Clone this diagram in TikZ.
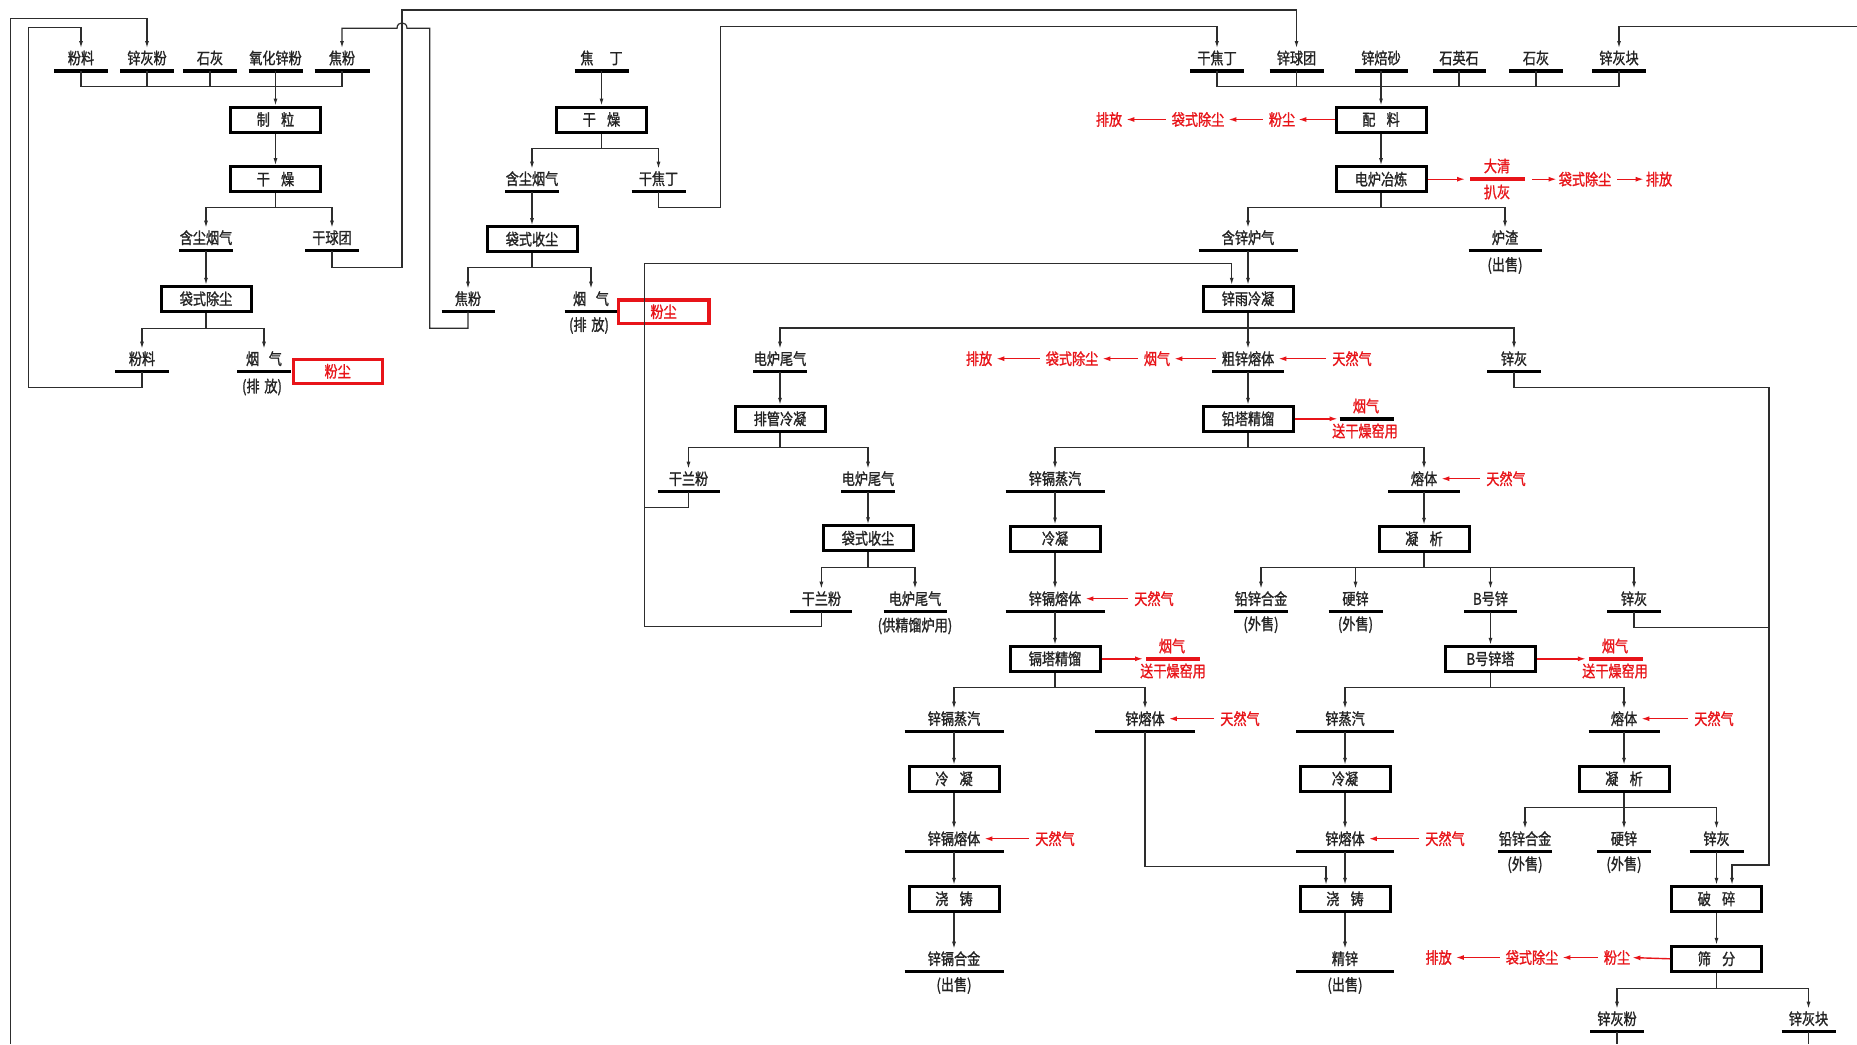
\documentclass[tikz,border=0pt]{standalone}
\usepackage{fontspec}
\setmainfont{Noto Sans CJK SC}[FakeStretch=0.82,FakeBold=1.2]
\usetikzlibrary{arrows.meta}
\definecolor{lc}{RGB}{45,45,45}
\definecolor{tc}{RGB}{35,35,35}
\definecolor{rc}{RGB}{232,20,25}
\newcommand\labfont{\fontsize{16}{18}\selectfont}
% name, x, ybar, half width, text
\newcommand\flowlab[5]{%
  \node[lab] (#1) at (#2,#3-13) {#5};
  \draw[flowbar] (#2-#4,#3) -- (#2+#4,#3);
  \coordinate (#1b) at (#2,#3);
  \coordinate (#1t) at (#2,#3-23);
}
\begin{document}
\begin{tikzpicture}[x=1pt,y=-1pt,
  ln/.style={draw=lc,line width=1.2pt},
  arr/.style={draw=lc,line width=1.2pt,-{Latex[length=7pt,width=4pt]}},
  flowbar/.style={draw=black,line width=3.4pt},
  pbox/.style={draw=black,line width=3pt,minimum width=90pt,minimum height=25pt,inner sep=0pt,font=\labfont,text=tc},
  lab/.style={inner sep=0pt,font=\labfont,text=tc},
  rlab/.style={inner sep=0pt,font=\labfont,text=rc},
  rarr/.style={draw=rc,line width=1.4pt,-{Latex[length=8pt,width=5pt]}},
  rcon/.style={rarr,shorten <=6pt,shorten >=4pt},
  rbar/.style={draw=rc,line width=3.8pt},
  rbox/.style={draw=rc,line width=3.4pt,inner sep=0pt,font=\labfont,text=rc}]
\fill[white] (0,0) rectangle (1857,1044);
\path[use as bounding box] (0,0) rectangle (1857,1044);

% ================= column A =================
\flowlab{afl}{81}{71}{27}{粉料}
\flowlab{azhf}{147}{71}{27}{锌灰粉}
\flowlab{ash}{210}{71}{27}{石灰}
\flowlab{ayh}{275.5}{71}{27}{氧化锌粉}
\flowlab{ajf}{342}{71}{27.5}{焦粉}
\draw[ln] (aflb) |- (ajfb |- 0,86.7) -- (ajfb);
\draw[ln] (azhfb) -- (azhfb |- 0,86.7);
\draw[ln] (ashb) -- (ashb |- 0,86.7);
\node[pbox] (azl) at (275.5,119.5) {制\hspace{0.7em}粒};
\draw[arr] (ayhb) -- (azl.north);
\node[pbox] (agz) at (275.5,179.2) {干\hspace{0.7em}燥};
\draw[arr] (azl) -- (agz);
\flowlab{ahc}{206}{250.7}{27}{含尘烟气}
\flowlab{agq}{332}{250.7}{27}{干球团}
\coordinate (asp1) at (275.5,207.7);
\draw[ln] (agz.south) -- (asp1);
\draw[arr] (asp1) -| (ahct);
\draw[arr] (asp1) -| (agqt);
\node[pbox] (adc) at (206,298.8) {袋式除尘};
\draw[arr] (ahcb) -- (adc.north);
\flowlab{afl2}{142}{371.7}{27}{粉料}
\flowlab{ayq}{264}{371.7}{27}{烟\hspace{0.6em}气}
\node[lab] (ayqs) at (262,387) {(排\hspace{0.3em}放)};
\coordinate (asp2) at (206,328.3);
\draw[ln] (adc.south) -- (asp2);
\draw[arr] (asp2) -| (afl2t);
\draw[arr] (asp2) -| (ayqt);
\node[rbox,minimum width=89pt,minimum height=24pt] (afc) at (337.7,371.3) {粉尘};

% loops of column A
\coordinate (aout) at (10.7,1044);
\draw[arr] (aout) -- (10.7,18.3) -| (azhft);
\draw[arr] (afl2b) -- (142,387.3) -| (28.5,27.7) -| (aflt);

% ================= column B =================
\flowlab{bjd}{601.5}{71}{27}{焦\hspace{1em}丁}
\node[pbox] (bgz) at (601.5,119.5) {干\hspace{0.7em}燥};
\draw[arr] (bjdb) -- (bgz.north);
\coordinate (bsp1) at (601.5,148.3);
\draw[ln] (bgz.south) -- (bsp1);
\flowlab{bhc}{532}{191.7}{27}{含尘烟气}
\flowlab{bgj}{658.5}{191.7}{27}{干焦丁}
\draw[arr] (bsp1) -| (bhct);
\draw[arr] (bsp1) -| (bgjt);
\node[pbox] (bdsc) at (532,239.2) {袋式收尘};
\draw[arr] (bhcb) -- (bdsc.north);
\coordinate (bsp2) at (532,267.7);
\draw[ln] (bdsc.south) -- (bsp2);
\flowlab{bjf}{468}{311.7}{26.5}{焦粉}
\flowlab{byq}{591}{311.7}{26.5}{烟\hspace{0.6em}气}
\node[lab] (byqs) at (589,325.5) {(排\hspace{0.3em}放)};
\draw[arr] (bsp2) -| (bjft);
\draw[arr] (bsp2) -| (byqt);
\node[rbox,minimum width=90.6pt,minimum height=23.3pt] (bfc) at (663.6,311.7) {粉尘};

% ================= column D heads (needed for loops) =================
\flowlab{dgj}{1217}{71}{27}{干焦丁}
\flowlab{dzq}{1296.5}{71}{27}{锌球团}
\flowlab{dzb}{1381}{71}{26.5}{锌焙砂}
\flowlab{dsy}{1459}{71}{26.5}{石英石}
\flowlab{dsh}{1536}{71}{27}{石灰}
\flowlab{dzk}{1619}{71}{27}{锌灰块}
\draw[ln] (dgjb) |- (dzkb |- 0,86.7) -- (dzkb);
\draw[ln] (dzqb) -- (dzqb |- 0,86.7);
\draw[ln] (dsyb) -- (dsyb |- 0,86.7);
\draw[ln] (dshb) -- (dshb |- 0,86.7);

% loops across the top
\draw[arr] (agqb) -- (332,267.7) -| (402,10) -| (dzqt);
\draw[arr] (bjfb) -- (468,328.3) -| (429.8,28.3) -- (407,28.3)
   .. controls (407,21) and (397,21) .. (397,28.3) -| (ajft);
\draw[arr] (bgjb) -- (658.5,207.3) -| (720.6,26.7) -| (dgjt);
\coordinate (rin) at (1857,26.7);
\draw[arr] (rin) -| (dzkt);

% ================= column C =================
\flowlab{cdw1}{780}{371.7}{27}{电炉尾气}
\node[pbox] (cpg) at (780,418.8) {排管冷凝};
\draw[arr] (cdw1b) -- (cpg.north);
\coordinate (csp1) at (780,447.3);
\draw[ln] (cpg.south) -- (csp1);
\flowlab{cgl1}{688.5}{491.7}{31}{干兰粉}
\flowlab{cdw2}{868}{491.7}{27}{电炉尾气}
\draw[arr] (csp1) -| (cgl1t);
\draw[arr] (csp1) -| (cdw2t);
\node[pbox] (cdsc) at (868,538.3) {袋式收尘};
\draw[arr] (cdw2b) -- (cdsc.north);
\coordinate (csp2) at (868,567.7);
\draw[ln] (cdsc.south) -- (csp2);
\flowlab{cgl2}{821.4}{611.7}{31}{干兰粉}
\flowlab{cdw3}{915}{611.7}{31.5}{电炉尾气}
\node[lab] (cdw3s) at (915,626) {(供精馏炉用)};
\draw[arr] (csp2) -| (cgl2t);
\draw[arr] (csp2) -| (cdw3t);

% ================= column D =================
\node[pbox] (dpl) at (1381,119.5) {配\hspace{0.7em}料};
\draw[arr] (dzbb) -- (dpl.north);
\node[pbox] (ddl) at (1381,179.2) {电炉冶炼};
\draw[arr] (dpl) -- (ddl);
\coordinate (dsp1) at (1381,207.7);
\draw[ln] (ddl.south) -- (dsp1);
\flowlab{dhx}{1248}{250.7}{49.5}{含锌炉气}
\flowlab{dlz}{1505}{250.7}{36.5}{炉渣}
\node[lab] (dlzs) at (1505,265.5) {(出售)};
\draw[arr] (dsp1) -| (dhxt);
\draw[arr] (dsp1) -| (dlzt);
\node[pbox] (dyl) at (1248,298.8) {锌雨冷凝};
\draw[arr] (dhxb) -- (dyl.north);
\coordinate (dylin) at (1231.7,284.8);
\draw[arr] (cgl2b) -- (821.4,626.7) -| (644.7,263.3) -| (dylin);
\draw[ln] (cgl1b) -- (688.5,507.7) -- (644.7,507.7);
\coordinate (dsp2) at (1248,328);
\draw[ln] (dyl.south) -- (dsp2);
\flowlab{dcz}{1248}{371.7}{36}{粗锌熔体}
\flowlab{dzh1}{1514}{371.7}{27}{锌灰}
\draw[arr] (dsp2) -- (dczt);
\draw[arr] (dsp2) -| (cdw1t);
\draw[arr] (dsp2) -| (dzh1t);
\node[pbox] (dqt) at (1248,418.8) {铅塔精馏};
\draw[arr] (dczb) -- (dqt.north);
\coordinate (dsp3) at (1248,447.3);
\draw[ln] (dqt.south) -- (dsp3);
\flowlab{dgz1}{1055}{491.7}{49.5}{锌镉蒸汽}
\flowlab{drt1}{1424}{491.7}{36}{熔体}
\draw[arr] (dsp3) -| (dgz1t);
\draw[arr] (dsp3) -| (drt1t);
\node[pbox] (dln1) at (1055,538.5) {冷凝};
\node[pbox] (dnx1) at (1424,538.8) {凝\hspace{0.7em}析};
\draw[arr] (dgz1b) -- (dln1.north);
\draw[arr] (drt1b) -- (dnx1.north);
\flowlab{dgr1}{1055}{611.7}{49.5}{锌镉熔体}
\draw[arr] (dln1.south) -- (dgr1t);
\coordinate (dsp4) at (1424,567.7);
\draw[ln] (dnx1.south) -- (dsp4);
\flowlab{dqx1}{1261}{611.7}{27}{铅锌合金}
\node[lab] (dqx1s) at (1261,624.7) {(外售)};
\flowlab{dyx1}{1355.5}{611.7}{27}{硬锌}
\node[lab] (dyx1s) at (1355.5,624.7) {(外售)};
\flowlab{dbx}{1490.5}{611.7}{26.5}{B号锌}
\flowlab{dzh2}{1634}{611.7}{27}{锌灰}
\draw[arr] (dsp4) -| (dqx1t);
\draw[arr] (dsp4) -| (dyx1t);
\draw[arr] (dsp4) -| (dbxt);
\draw[arr] (dsp4) -| (dzh2t);
\node[pbox] (dgt) at (1055,658.8) {镉塔精馏};
\draw[arr] (dgr1b) -- (dgt.north);
\node[pbox] (dbt) at (1490.5,658.8) {B号锌塔};
\draw[arr] (dbxb) -- (dbt.north);
\coordinate (dsp5) at (1055,687.8);
\draw[ln] (dgt.south) -- (dsp5);
\coordinate (dsp6) at (1490.5,687.8);
\draw[ln] (dbt.south) -- (dsp6);
\flowlab{dgz2}{954}{731.7}{49.5}{锌镉蒸汽}
\flowlab{dzr2}{1145}{731.7}{50}{锌熔体}
\flowlab{dzz}{1345}{731.7}{49}{锌蒸汽}
\flowlab{drt2}{1624}{731.7}{35.5}{熔体}
\draw[arr] (dsp5) -| (dgz2t);
\draw[arr] (dsp5) -| (dzr2t);
\draw[arr] (dsp6) -| (dzzt);
\draw[arr] (dsp6) -| (drt2t);
\node[pbox] (dln2) at (954,778.8) {冷\hspace{0.7em}凝};
\node[pbox] (dln3) at (1345,778.8) {冷凝};
\node[pbox] (dnx2) at (1624,778.8) {凝\hspace{0.7em}析};
\draw[arr] (dgz2b) -- (dln2.north);
\draw[arr] (dzzb) -- (dln3.north);
\draw[arr] (drt2b) -- (dnx2.north);
\flowlab{dgr2}{954}{851.7}{49.5}{锌镉熔体}
\flowlab{dzr3}{1345}{851.7}{49}{锌熔体}
\draw[arr] (dln2.south) -- (dgr2t);
\draw[arr] (dln3.south) -- (dzr3t);
\coordinate (dsp7) at (1624,807.7);
\draw[ln] (dnx2.south) -- (dsp7);
\flowlab{dqx2}{1525}{851.7}{27}{铅锌合金}
\node[lab] (dqx2s) at (1525,864.7) {(外售)};
\flowlab{dyx2}{1624}{851.7}{27}{硬锌}
\node[lab] (dyx2s) at (1624,864.7) {(外售)};
\flowlab{dzh3}{1716.5}{851.7}{27}{锌灰}
\draw[arr] (dsp7) -| (dqx2t);
\draw[arr] (dsp7) -- (dyx2t);
\draw[arr] (dsp7) -| (dzh3t);
\node[pbox] (djz1) at (954,898.8) {浇\hspace{0.7em}铸};
\node[pbox] (djz2) at (1345,898.8) {浇\hspace{0.7em}铸};
\node[pbox] (dps) at (1716.5,898.8) {破\hspace{0.7em}碎};
\node[pbox] (dsf) at (1716.5,958.8) {筛\hspace{0.7em}分};
\draw[arr] (dgr2b) -- (djz1.north);
\draw[arr] (dzr3b) -- (djz2.north);
\draw[arr] (dzh3b) -- (dps.north);
\draw[arr] (dps) -- (dsf);
\coordinate (djz2in) at (1326,884.8);
\draw[arr] (dzr2b) -- (1145,866.7) -| (djz2in);
\coordinate (dpsin) at (1732,884.8);
\draw[arr] (dzh1b) -- (1514,387.7) -| (1769,865) -| (dpsin);
\draw[ln] (dzh2b) -- (1634,627.7) -- (1769,627.7);
\flowlab{dgh}{954}{971.7}{49.5}{锌镉合金}
\node[lab] (dghs) at (954,985.5) {(出售)};
\flowlab{djx}{1345}{971.7}{49}{精锌}
\node[lab] (djxs) at (1345,985.5) {(出售)};
\draw[arr] (djz1.south) -- (dght);
\draw[arr] (djz2.south) -- (djxt);
\coordinate (dsp8) at (1716.5,988.3);
\draw[ln] (dsf.south) -- (dsp8);
\flowlab{dzhf}{1617}{1031.7}{27}{锌灰粉}
\flowlab{dzhk}{1808.5}{1031.7}{27}{锌灰块}
\draw[arr] (dsp8) -| (dzhft);
\draw[arr] (dsp8) -| (dzhkt);
\coordinate (dzhfo) at (1617,1044);
\coordinate (dzhko) at (1808.5,1044);
\draw[ln] (dzhfb) -- (dzhfo);
\draw[ln] (dzhkb) -- (dzhko);

% ================= red side streams =================
% 配料
\node[rlab] (r1a) at (1282,119.5) {粉尘};
\node[rlab] (r1b) at (1198,119.5) {袋式除尘};
\node[rlab] (r1c) at (1109,119.5) {排放};
\draw[rarr,shorten >=3pt] (dpl.west) -- (r1a.east);
\draw[rcon] (r1a.west) -- (r1b.east);
\draw[rcon] (r1b.west) -- (r1c.east);
% 电炉冶炼
\coordinate (r2l) at (1470,179.2);
\coordinate (r2r) at (1525,179.2);
\draw[rarr,shorten >=5pt] (ddl.east) -- (r2l);
\draw[rbar] (r2l) -- (r2r);
\node[rlab] (r2t) at (1497,166) {大清};
\node[rlab] (r2u) at (1497,192) {扒灰};
\node[rlab] (r2b) at (1585,179.2) {袋式除尘};
\node[rlab] (r2c) at (1659,179.2) {排放};
\draw[rarr,shorten <=7pt,shorten >=2pt] (r2r) -- (r2b.west);
\draw[rarr,shorten <=6pt,shorten >=2pt] (r2b.east) -- (r2c.west);
% 粗锌熔体
\node[rlab] (r3n) at (1352,358.7) {天然气};
\draw[rcon] (r3n.west) -- (dcz.east);
\node[rlab] (r3a) at (1157,358.7) {烟气};
\node[rlab] (r3b) at (1072,358.7) {袋式除尘};
\node[rlab] (r3c) at (979,358.7) {排放};
\draw[rcon] (dcz.west) -- (r3a.east);
\draw[rcon] (r3a.west) -- (r3b.east);
\draw[rcon] (r3b.west) -- (r3c.east);
% 铅塔精馏
\coordinate (r4l) at (1339.5,418.8);
\coordinate (r4r) at (1393.5,418.8);
\draw[rarr,shorten >=2pt] (dqt.east) -- (r4l);
\draw[flowbar] (r4l) -- (r4r);
\node[rlab] (r4t) at (1366,406) {烟气};
\node[rlab] (r4u) at (1365,431) {送干燥窑用};
% natural gas feeds
\node[rlab] (r5) at (1506,478.7) {天然气};
\draw[rcon] (r5.west) -- (drt1.east);
\node[rlab] (r6) at (1154,598.7) {天然气};
\draw[rcon] (r6.west) -- (dgr1.east);
\node[rlab] (r9) at (1240,718.7) {天然气};
\draw[rcon] (r9.west) -- (dzr2.east);
\node[rlab] (r10) at (1714,718.7) {天然气};
\draw[rcon] (r10.west) -- (drt2.east);
\node[rlab] (r11) at (1055,838.7) {天然气};
\draw[rcon] (r11.west) -- (dgr2.east);
\node[rlab] (r12) at (1445,838.7) {天然气};
\draw[rcon] (r12.west) -- (dzr3.east);
% 镉塔精馏
\coordinate (r7l) at (1146,658.8);
\coordinate (r7r) at (1200,658.8);
\draw[rarr,shorten >=3pt] (dgt.east) -- (r7l);
\draw[rbar] (r7l) -- (r7r);
\node[rlab] (r7t) at (1172,646) {烟气};
\node[rlab] (r7u) at (1173,671) {送干燥窑用};
% B号锌塔
\coordinate (r8l) at (1588.8,658.8);
\coordinate (r8r) at (1642.8,658.8);
\draw[rarr,shorten >=3pt] (dbt.east) -- (r8l);
\draw[rbar] (r8l) -- (r8r);
\node[rlab] (r8t) at (1615,646) {烟气};
\node[rlab] (r8u) at (1615,671) {送干燥窑用};
% 筛分
\node[rlab] (r13a) at (1617,957.5) {粉尘};
\node[rlab] (r13b) at (1532,957.5) {袋式除尘};
\node[rlab] (r13c) at (1438.6,957.5) {排放};
\draw[rarr,shorten >=2pt] (dsf.west) -- (r13a.east);
\draw[rcon] (r13a.west) -- (r13b.east);
\draw[rcon] (r13b.west) -- (r13c.east);
\end{tikzpicture}
\end{document}
